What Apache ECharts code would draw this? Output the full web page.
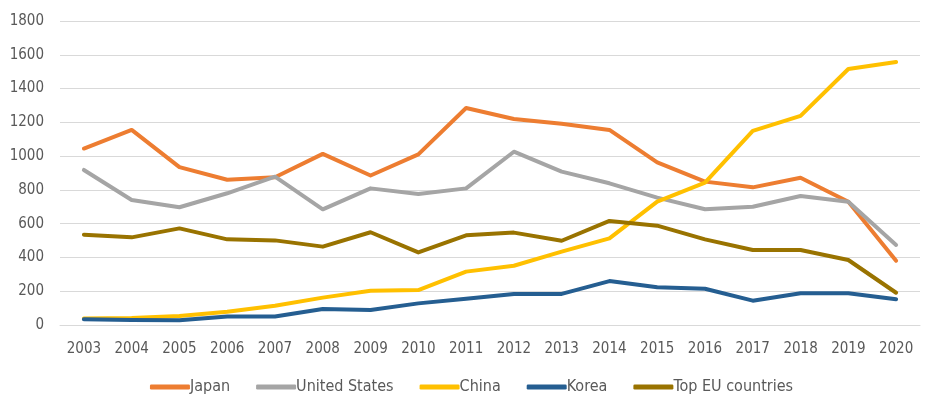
<html lang="en">
<head>
    <meta charset="UTF-8">
    <title>Chart</title>
    <script src="https://cdn.jsdelivr.net/npm/echarts@6/dist/echarts.min.js"></script>
    <style>body{margin:0;background:#fff;}</style>
</head>
<body>
    <div id="main" style="width: 943px;height: 406px"></div>
    <script type="text/javascript">
        var years = ['2003', '2004', '2005', '2006', '2007', '2008', '2009', '2010', '2011',
            '2012', '2013', '2014', '2015', '2016', '2017', '2018', '2019', '2020'];
        var japan = [1045, 1155, 935, 860, 875, 1013, 885, 1010, 1285, 1220, 1192, 1155, 963, 849, 815, 872, 730, 381];
        var unitedStates = [918, 740, 697, 780, 878, 685, 809, 776, 809, 1026, 908, 839, 754, 685, 700, 764, 730, 474];
        var china = [38, 42, 53, 79, 114, 162, 203, 207, 316, 351, 434, 513, 730, 843, 1149, 1238, 1516, 1557];
        var korea = [34, 30, 28, 50, 50, 95, 89, 128, 155, 184, 184, 260, 223, 215, 144, 188, 188, 152];
        var topEU = [535, 519, 572, 507, 501, 464, 549, 430, 531, 547, 499, 616, 588, 507, 444, 444, 385, 191];

        var font = "'Liberation Sans Narrow', 'DejaVu Sans Condensed', sans-serif";
        var myChart = echarts.init(document.getElementById('main'));

        function line(name, data, color) {
            return {
                name: name,
                type: 'line',
                data: data,
                symbol: 'none',
                color: color,
                lineStyle: { width: 4, color: color, cap: 'round', join: 'round' }
            };
        }

        var option = {
            animation: false,
            grid: { left: 60, right: 23, top: 21, bottom: 81 },
            xAxis: {
                type: 'category',
                data: years,
                boundaryGap: true,
                axisLine: { show: true, lineStyle: { color: '#d9d9d9', width: 1 } },
                axisTick: { show: false },
                axisLabel: { color: '#595959', fontSize: 15, fontFamily: font, margin: 17 }
            },
            yAxis: {
                type: 'value',
                min: 0,
                max: 1800,
                interval: 200,
                axisLine: { show: false },
                axisTick: { show: false },
                splitLine: { lineStyle: { color: '#d9d9d9', width: 1 } },
                axisLabel: {
                    color: '#595959', fontSize: 15, fontFamily: font, margin: 16,
                    formatter: function (v) { return String(v); }
                }
            },
            legend: {
                bottom: 6,
                left: 'center',
                icon: 'roundRect',
                itemWidth: 40,
                itemHeight: 5,
                itemGap: 26,
                textStyle: { color: '#595959', fontSize: 16, fontFamily: font, padding: [0, 0, 0, -5] }
            },
            series: [
                line('Japan', japan, '#ED7D31'),
                line('United States', unitedStates, '#A5A5A5'),
                line('China', china, '#FFC000'),
                line('Korea', korea, '#255E91'),
                line('Top EU countries', topEU, '#997300')
            ]
        };
        myChart.setOption(option);
    </script>
</body>
</html>
